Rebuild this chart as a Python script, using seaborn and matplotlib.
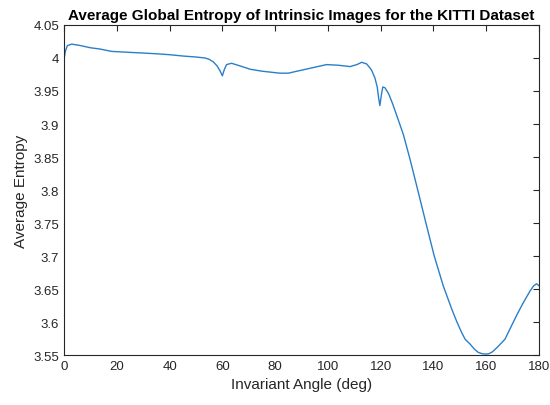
import matplotlib
matplotlib.use("Agg")
import matplotlib.pyplot as plt
import seaborn as sns
import pandas as pd
from matplotlib.ticker import FuncFormatter

angle = [0, 0.5, 1.25, 2.9, 6, 10, 13.6, 18, 25, 30, 34.5, 40, 45, 50, 53.4, 55,
         56.6, 58, 59.2, 60, 60.8, 61.6, 63.5, 66.7, 70.5, 75, 81.8, 85, 89.4, 95,
         99.5, 104, 108.4, 111, 112.8, 114.7, 116.5, 117.8, 118.7, 119.2, 119.7,
         120.3, 120.8, 121.6, 123, 124.5, 126, 128.6, 131.1, 134.3, 137.4, 140.3,
         143.7, 146.9, 148.8, 150.7, 152, 153.8, 155.5, 157, 158.5, 159.9, 161,
         162.4, 164.5, 167.1, 169.3, 171.5, 174, 176.6, 178, 179.1, 180]
entropy = [3.998, 4.010, 4.0187, 4.021, 4.019, 4.0155, 4.0136, 4.010, 4.0085, 4.0075,
           4.0065, 4.005, 4.003, 4.0015, 4.000, 3.998, 3.994, 3.988, 3.980, 3.973,
           3.983, 3.990, 3.992, 3.988, 3.983, 3.980, 3.977, 3.977, 3.981, 3.986,
           3.990, 3.989, 3.987, 3.990, 3.9935, 3.991, 3.982, 3.970, 3.956, 3.940,
           3.928, 3.945, 3.956, 3.955, 3.946, 3.931, 3.914, 3.884, 3.847, 3.796,
           3.746, 3.700, 3.655, 3.620, 3.601, 3.584, 3.574, 3.567, 3.559, 3.554,
           3.552, 3.5515, 3.552, 3.555, 3.563, 3.574, 3.592, 3.610, 3.629, 3.647,
           3.655, 3.658, 3.655]

df = pd.DataFrame({"angle": angle, "entropy": entropy})

sns.set_style("white")
plt.rcParams['font.family'] = ['Liberation Sans', 'DejaVu Sans']

fig = plt.figure(figsize=(5.5, 4.06), dpi=100)
ax = fig.add_axes([0.1164, 0.123, 0.8636, 0.813])
sns.lineplot(data=df, x="angle", y="entropy", ax=ax, color="#2a7fc8", linewidth=1.0)

ax.set_xlim(0, 180)
ax.set_ylim(3.55, 4.05)
ax.set_xticks(range(0, 181, 20))
yt = [3.55 + 0.05 * i for i in range(11)]
ax.set_yticks(yt)
ax.yaxis.set_major_formatter(FuncFormatter(lambda v, p: f"{v:.2f}".rstrip('0').rstrip('.')))

gray = "#262626"
for s in ax.spines.values():
    s.set_visible(True)
    s.set_color(gray)
    s.set_linewidth(0.8)
ax.tick_params(direction="in", length=4, width=0.8, colors=gray, labelsize=9.5,
               top=True, right=True, labeltop=False, labelright=False)
ax.set_xlabel("Invariant Angle (deg)", fontsize=11, color=gray)
ax.set_ylabel("Average Entropy", fontsize=11, color=gray)
ax.set_title("Average Global Entropy of Intrinsic Images for the KITTI Dataset",
             fontsize=11, fontweight="bold", color="black", pad=4)

fig.savefig("out.png", dpi=100)
